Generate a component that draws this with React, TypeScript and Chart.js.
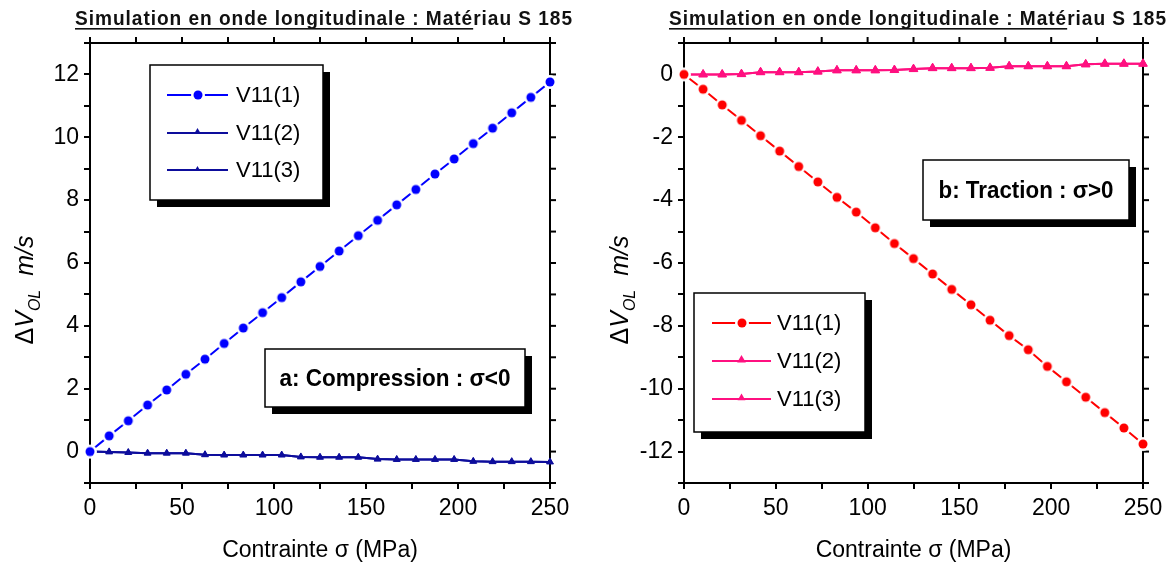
import React, { useEffect, useRef } from 'react';
import { Chart, registerables } from 'chart.js';

Chart.register(...registerables);

// ---------------- data ----------------
const sigmaMPa = [0, 10.4, 20.8, 31.3, 41.7, 52.1, 62.5, 72.9, 83.3, 93.8, 104.2, 114.6, 125, 135.4, 145.8, 156.3, 166.7, 177.1, 187.5, 197.9, 208.3, 218.8, 229.2, 239.6, 250];

const compressionV1 = [0, 0.5, 0.98, 1.48, 1.96, 2.46, 2.94, 3.44, 3.93, 4.42, 4.9, 5.4, 5.89, 6.38, 6.87, 7.36, 7.85, 8.34, 8.83, 9.31, 9.8, 10.29, 10.78, 11.27, 11.76];
const compressionV2 = [0, -0.01, -0.03, -0.05, -0.05, -0.05, -0.1, -0.11, -0.11, -0.11, -0.11, -0.17, -0.18, -0.18, -0.18, -0.24, -0.25, -0.25, -0.25, -0.25, -0.31, -0.32, -0.32, -0.32, -0.33];
const compressionV3 = [0, -0.01, -0.03, -0.05, -0.05, -0.05, -0.1, -0.11, -0.11, -0.11, -0.11, -0.17, -0.18, -0.18, -0.18, -0.24, -0.25, -0.25, -0.25, -0.25, -0.31, -0.32, -0.32, -0.32, -0.33];

const tractionV1 = [0, -0.47, -0.97, -1.46, -1.95, -2.44, -2.93, -3.42, -3.91, -4.38, -4.88, -5.38, -5.86, -6.35, -6.84, -7.33, -7.82, -8.31, -8.76, -9.29, -9.78, -10.27, -10.76, -11.25, -11.76];
const tractionV2 = [0, 0, 0, 0.01, 0.07, 0.07, 0.07, 0.09, 0.13, 0.13, 0.13, 0.14, 0.17, 0.2, 0.2, 0.2, 0.21, 0.26, 0.26, 0.26, 0.26, 0.32, 0.34, 0.34, 0.34];
const tractionV3 = [0, 0, 0, 0.01, 0.07, 0.07, 0.07, 0.09, 0.13, 0.13, 0.13, 0.14, 0.17, 0.2, 0.2, 0.2, 0.21, 0.26, 0.26, 0.26, 0.26, 0.32, 0.34, 0.34, 0.34];

const seriesNames = ['V11(1)', 'V11(2)', 'V11(3)'];
const xRange = [0, 250];
const xTickStep = 25;
const xLabelStep = 50;
const yRangeA = [-1, 13];
const yRangeB = [-13, 1];
const yTickStep = 1;
const yLabelStep = 2;

const chartTitle = 'Simulation en onde longitudinale : Matériau S 185';
const chartTitleUnderlined = 'Simulation en onde longitudinale : Maté';
const xAxisTitle = 'Contrainte σ (MPa)';
const yAxisMain = 'Δ';
const yAxisVar = 'V';
const yAxisSub = 'OL';
const yAxisUnit = 'm/s';
const panelATag = 'a: Compression : σ<0';
const panelBTag = 'b: Traction : σ>0';

// ---------------- styling helpers ----------------
const FONT = '"Liberation Sans", Arial, Helvetica, sans-serif';
const H = 566;

function dotWithGap(color: string, r: number, gap: number) {
  const c = document.createElement('canvas');
  const size = Math.ceil((r + gap) * 2) + 2;
  c.width = size;
  c.height = size;
  const g = c.getContext('2d')!;
  g.fillStyle = '#ffffff';
  g.beginPath();
  g.arc(size / 2, size / 2, r + gap, 0, Math.PI * 2);
  g.fill();
  g.fillStyle = color;
  g.beginPath();
  g.arc(size / 2, size / 2, r, 0, Math.PI * 2);
  g.fill();
  return c;
}

function triangle(ctx: CanvasRenderingContext2D, x: number, y: number, r: number, color: string) {
  ctx.save();
  ctx.fillStyle = color;
  ctx.beginPath();
  let rad = 0;
  for (let i = 0; i < 3; i++) {
    const px = x + Math.sin(rad) * r;
    const py = y - Math.cos(rad) * r;
    if (i === 0) ctx.moveTo(px, py);
    else ctx.lineTo(px, py);
    rad += (2 * Math.PI) / 3;
  }
  ctx.closePath();
  ctx.fill();
  ctx.restore();
}

type Series = { label: string; data: number[]; color: string; style: 'dot' | 'triangle'; radius: number };
type Spec = {
  width: number;
  area: { left: number; right: number; top: number; bottom: number };
  yRange: number[];
  series: Series[];
  legend: { x: number; y: number; w: number; h: number; rows: number[]; lx0: number; lx1: number; tx: number };
  tag: { x: number; y: number; w: number; h: number; text: string; tw: number };
  yTitleX: number;
  yTitleCY: number;
  titleLeft: number;
  titleWidth: number;
  titleBaseline: number;
};

function shadowBox(ctx: CanvasRenderingContext2D, x: number, y: number, w: number, h: number) {
  ctx.save();
  ctx.fillStyle = '#000';
  ctx.fillRect(x + 7, y + 7, w, h);
  ctx.fillStyle = '#fff';
  ctx.fillRect(x, y, w, h);
  ctx.strokeStyle = '#000';
  ctx.lineWidth = 1.5;
  ctx.strokeRect(x, y, w, h);
  ctx.restore();
}

function makePlugin(spec: Spec, dots: Record<string, HTMLCanvasElement>) {
  return {
    id: 'decor',
    beforeDatasetsDraw(chart: any) {
      const { ctx, chartArea: a, scales } = chart;
      ctx.save();
      ctx.strokeStyle = '#000';
      ctx.lineWidth = 2;
      ctx.strokeRect(a.left, a.top, a.right - a.left, a.bottom - a.top);
      for (const t of scales.x.ticks) {
        const px = scales.x.getPixelForValue(t.value);
        ctx.beginPath();
        ctx.moveTo(px, a.top);
        ctx.lineTo(px, a.top - 6);
        ctx.stroke();
      }
      for (const t of scales.y.ticks) {
        const py = scales.y.getPixelForValue(t.value);
        ctx.beginPath();
        ctx.moveTo(a.right, py);
        ctx.lineTo(a.right + 6, py);
        ctx.stroke();
      }
      ctx.restore();
    },
    afterDraw(chart: any) {
      const { ctx } = chart;
      // title
      ctx.save();
      ctx.font = `bold 20px ${FONT}`;
      (ctx as any).letterSpacing = '1px';
      const tw = ctx.measureText(chartTitle).width;
      const uw = ctx.measureText(chartTitleUnderlined).width;
      ctx.translate(spec.titleLeft, spec.titleBaseline);
      ctx.scale(spec.titleWidth / tw, 1);
      ctx.fillStyle = '#111';
      ctx.textAlign = 'left';
      ctx.textBaseline = 'alphabetic';
      ctx.fillText(chartTitle, 0, 0);
      ctx.fillRect(0, 3, uw, 1.6);
      ctx.restore();

      // y axis title (rotated, with subscript)
      ctx.save();
      ctx.fillStyle = '#000';
      ctx.textBaseline = 'alphabetic';
      ctx.textAlign = 'left';
      const fMain = `25px ${FONT}`;
      const fIt = `italic 25px ${FONT}`;
      const fSub = `italic 16px ${FONT}`;
      ctx.font = fMain;
      const wD = ctx.measureText(yAxisMain).width;
      ctx.font = fIt;
      const wV = ctx.measureText(yAxisVar).width;
      const wU = ctx.measureText(yAxisUnit).width;
      ctx.font = fSub;
      const wS = ctx.measureText(yAxisSub).width;
      const gap = 14;
      const total = wD + wV + wS + gap + wU;
      ctx.translate(spec.yTitleX, spec.yTitleCY);
      ctx.rotate(-Math.PI / 2);
      let x = -total / 2;
      ctx.font = fMain;
      ctx.fillText(yAxisMain, x, 0);
      x += wD;
      ctx.font = fIt;
      ctx.fillText(yAxisVar, x, 0);
      x += wV;
      ctx.font = fSub;
      ctx.fillText(yAxisSub, x, 7);
      x += wS + gap;
      ctx.font = fIt;
      ctx.fillText(yAxisUnit, x, 0);
      ctx.restore();

      // legend box
      const L = spec.legend;
      shadowBox(ctx, L.x, L.y, L.w, L.h);
      spec.series.forEach((s, i) => {
        const y = L.rows[i];
        ctx.save();
        ctx.strokeStyle = s.color;
        ctx.lineWidth = 2;
        ctx.beginPath();
        ctx.moveTo(L.lx0, y);
        ctx.lineTo(L.lx1, y);
        ctx.stroke();
        const mx = (L.lx0 + L.lx1) / 2;
        if (s.style === 'dot') {
          const img = dots[s.color];
          ctx.drawImage(img, Math.round(mx - img.width / 2), Math.round(y - img.height / 2));
        } else {
          triangle(ctx, mx, y - 1, s.radius, s.color);
        }
        ctx.fillStyle = '#000';
        ctx.font = `22px ${FONT}`;
        ctx.textBaseline = 'middle';
        ctx.textAlign = 'left';
        ctx.fillText(s.label, L.tx, y + 1);
        ctx.restore();
      });

      // tag box
      const T = spec.tag;
      shadowBox(ctx, T.x, T.y, T.w, T.h);
      ctx.save();
      ctx.font = `bold 24px ${FONT}`;
      const w = ctx.measureText(T.text).width;
      ctx.translate(T.x + T.w / 2, T.y + T.h / 2 + 1);
      ctx.scale(T.tw / w, 1);
      ctx.fillStyle = '#000';
      ctx.textAlign = 'center';
      ctx.textBaseline = 'middle';
      ctx.fillText(T.text, 0, 0);
      ctx.restore();
    },
  };
}

function buildChart(canvas: HTMLCanvasElement, spec: Spec) {
  const dots: Record<string, HTMLCanvasElement> = {};
  spec.series.forEach((s) => {
    if (s.style === 'dot') dots[s.color] = dotWithGap(s.color, s.radius, 2.5);
  });
  const datasets = spec.series.map((s) => ({
    label: s.label,
    data: sigmaMPa.map((x, i) => ({ x, y: s.data[i] })),
    borderColor: s.color,
    backgroundColor: s.color,
    borderWidth: 2,
    pointStyle: s.style === 'dot' ? dots[s.color] : 'triangle',
    pointRadius: s.radius,
    pointBorderWidth: s.style === 'dot' ? 0 : 1,
    pointBorderColor: s.color,
    pointBackgroundColor: s.color,
    tension: 0,
    clip: false as any,
  }));
  const tickFont = { family: FONT, size: 23 };
  return new Chart(canvas, {
    type: 'line',
    data: { datasets },
    options: {
      responsive: false,
      animation: false,
      devicePixelRatio: 1,
      layout: { padding: { top: spec.area.top, left: 0, right: spec.width - spec.area.right, bottom: 0 } },
      plugins: { legend: { display: false }, tooltip: { enabled: false }, title: { display: false } },
      scales: {
        x: {
          type: 'linear',
          min: xRange[0],
          max: xRange[1],
          afterFit: (s: any) => {
            s.height = H - spec.area.bottom;
          },
          ticks: {
            stepSize: xTickStep,
            autoSkip: false,
            maxRotation: 0,
            color: '#000',
            font: tickFont,
            padding: 6,
            callback: (v: any) => (Number(v) % xLabelStep === 0 ? String(v) : ''),
          },
          grid: { drawOnChartArea: false, drawTicks: true, tickLength: 6, color: '#000', lineWidth: 2 },
          border: { display: true, color: '#000', width: 2 },
          title: { display: true, text: xAxisTitle, color: '#000', font: { family: FONT, size: 23 }, padding: { top: 0, bottom: 2 } },
        },
        y: {
          type: 'linear',
          min: spec.yRange[0],
          max: spec.yRange[1],
          afterFit: (s: any) => {
            s.width = spec.area.left;
          },
          ticks: {
            stepSize: yTickStep,
            autoSkip: false,
            color: '#000',
            font: tickFont,
            padding: 5,
            callback: (v: any) => (Math.round(Number(v)) % yLabelStep === 0 ? String(v) : ''),
          },
          grid: { drawOnChartArea: false, drawTicks: true, tickLength: 6, color: '#000', lineWidth: 2 },
          border: { display: true, color: '#000', width: 2 },
        },
      },
    },
    plugins: [makePlugin(spec, dots) as any],
  });
}

const BLUE = '#0000ff';
const NAVY = '#0d0d9c';
const RED = '#ff0000';
const PINK = '#ff1080';

const specA: Spec = {
  width: 586,
  area: { left: 90, right: 550, top: 43, bottom: 483 },
  yRange: yRangeA,
  series: [
    { label: seriesNames[0], data: compressionV1, color: BLUE, style: 'dot', radius: 4.5 },
    { label: seriesNames[1], data: compressionV2, color: NAVY, style: 'triangle', radius: 4 },
    { label: seriesNames[2], data: compressionV3, color: NAVY, style: 'triangle', radius: 3 },
  ],
  legend: { x: 150, y: 65, w: 173, h: 135, rows: [95, 133, 170], lx0: 167, lx1: 228, tx: 236 },
  tag: { x: 265, y: 349, w: 260, h: 58, text: panelATag, tw: 231 },
  yTitleX: 33,
  yTitleCY: 290,
  titleLeft: 75,
  titleWidth: 498,
  titleBaseline: 25,
};

const specB: Spec = {
  width: 587,
  area: { left: 98, right: 557, top: 43, bottom: 483 },
  yRange: yRangeB,
  series: [
    { label: seriesNames[0], data: tractionV1, color: RED, style: 'dot', radius: 4.5 },
    { label: seriesNames[1], data: tractionV2, color: PINK, style: 'triangle', radius: 5 },
    { label: seriesNames[2], data: tractionV3, color: PINK, style: 'triangle', radius: 4.5 },
  ],
  legend: { x: 108, y: 293, w: 171, h: 139, rows: [323, 361, 399], lx0: 126, lx1: 185, tx: 191 },
  tag: { x: 337, y: 160, w: 206, h: 60, text: panelBTag, tw: 175 },
  yTitleX: 42,
  yTitleCY: 290,
  titleLeft: 83,
  titleWidth: 498,
  titleBaseline: 25,
};

export default function App() {
  const refA = useRef<HTMLCanvasElement | null>(null);
  const refB = useRef<HTMLCanvasElement | null>(null);
  useEffect(() => {
    const a = buildChart(refA.current!, specA);
    const b = buildChart(refB.current!, specB);
    return () => {
      a.destroy();
      b.destroy();
    };
  }, []);
  return (
    <div style={{ position: 'absolute', left: 0, top: 0, width: 1173, height: H, background: '#fff', overflow: 'hidden' }}>
      <canvas ref={refA} width={586} height={H} style={{ position: 'absolute', left: 0, top: 0 }} />
      <canvas ref={refB} width={587} height={H} style={{ position: 'absolute', left: 586, top: 0 }} />
    </div>
  );
}
